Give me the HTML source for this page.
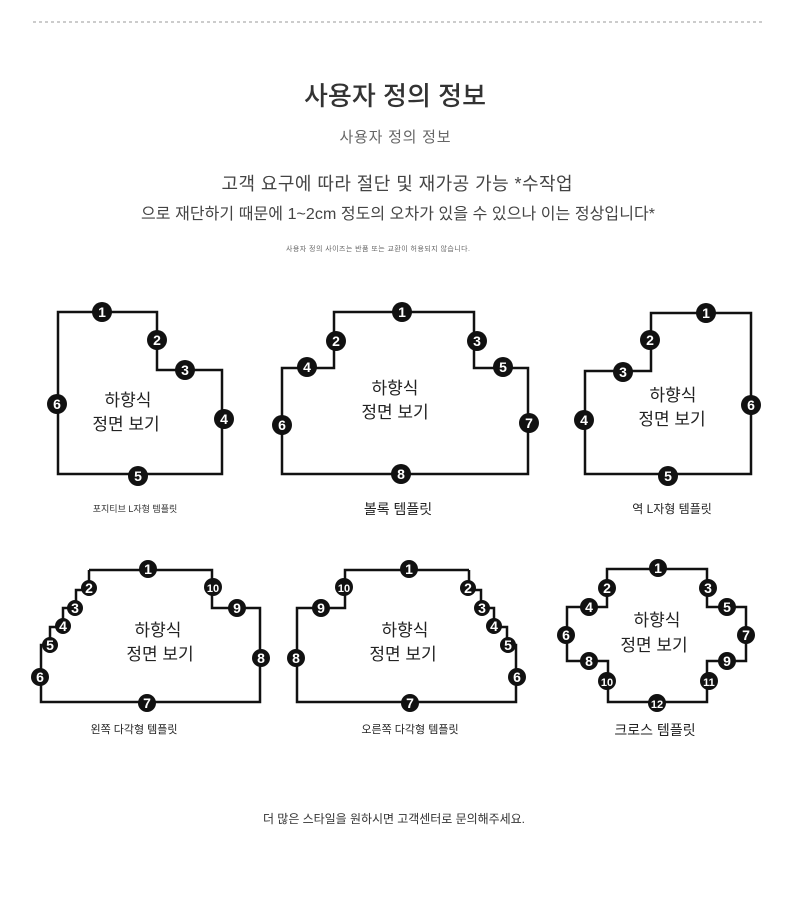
<!DOCTYPE html>
<html><head><meta charset="utf-8"><style>
html,body{margin:0;padding:0;background:#fff;}
svg{display:block;font-family:"Liberation Sans","Noto Sans CJK KR",sans-serif;}
.b circle{fill:#111;}
.b text{fill:#fff;font-size:14px;font-weight:bold;text-anchor:middle;}
.s{fill:none;stroke:#111;stroke-width:2.5;}
.c{font-size:17px;fill:#222;text-anchor:middle;}
</style></head><body>
<svg width="790" height="898" viewBox="0 0 790 898" xmlns="http://www.w3.org/2000/svg">
<line x1="33" y1="22" x2="765" y2="22" stroke="#999" stroke-width="1" stroke-dasharray="3,3"/>
<text x="395" y="105" font-size="26" fill="#333" text-anchor="middle" textLength="182" font-weight="500">사용자 정의 정보</text>
<text x="395" y="142" font-size="15" fill="#666" text-anchor="middle" textLength="111">사용자 정의 정보</text>
<text x="397" y="190" font-size="18" fill="#444" text-anchor="middle" textLength="351">고객 요구에 따라 절단 및 재가공 가능 *수작업</text>
<text x="398" y="219" font-size="16" fill="#444" text-anchor="middle" textLength="514">으로 재단하기 때문에 1~2cm 정도의 오차가 있을 수 있으나 이는 정상입니다*</text>
<text x="378" y="251" font-size="7" fill="#666" text-anchor="middle" textLength="184">사용자 정의 사이즈는 반품 또는 교환이 허용되지 않습니다.</text>

<polygon class="s" points="58,312 157,312 157,370 222,370 222,474 58,474"/>
<text class="c" x="128" y="406">하향식</text><text class="c" x="126" y="430">정면 보기</text>
<text x="135" y="512" font-size="9" fill="#333" text-anchor="middle">포지티브 L자형 템플릿</text>
<polygon class="s" points="282,474 282,368 334,368 334,312 474,312 474,368 528,368 528,474"/>
<text class="c" x="395" y="394">하향식</text><text class="c" x="395" y="418">정면 보기</text>
<text x="398" y="514" font-size="14" fill="#222" text-anchor="middle">볼록 템플릿</text>
<polygon class="s" points="585,474 585,371 651,371 651,313 751,313 751,474"/>
<text class="c" x="673" y="401">하향식</text><text class="c" x="672" y="425">정면 보기</text>
<text x="672" y="513" font-size="12" fill="#222" text-anchor="middle">역 L자형 템플릿</text>
<polyline class="s" points="89,570 212,570 212,608 260,608 260,702 41,702 41,645 50,645 50,627 63,627 63,608 76,608 76,590 89,590 89,570"/>
<text class="c" x="158" y="636">하향식</text><text class="c" x="160" y="660">정면 보기</text>
<text x="134" y="733" font-size="11" fill="#222" text-anchor="middle">왼쪽 다각형 템플릿</text>
<polyline class="s" points="469,570 345,570 345,608 297,608 297,702 516,702 516,645 507,645 507,627 494,627 494,608 481,608 481,590 469,590 469,570"/>
<text class="c" x="405" y="636">하향식</text><text class="c" x="403" y="660">정면 보기</text>
<text x="410" y="733" font-size="11" fill="#222" text-anchor="middle">오른쪽 다각형 템플릿</text>
<polygon class="s" points="607,569 707,569 707,607 746,607 746,661 707,661 707,702 608,702 608,661 567,661 567,607 607,607"/>
<text class="c" x="657" y="626">하향식</text><text class="c" x="654" y="651">정면 보기</text>
<text x="655" y="735" font-size="14" fill="#222" text-anchor="middle">크로스 템플릿</text>

<g class="b">
<circle cx="102" cy="312" r="10"/><text x="102" y="317">1</text>
<circle cx="157" cy="340" r="10"/><text x="157" y="345">2</text>
<circle cx="185" cy="370" r="10"/><text x="185" y="375">3</text>
<circle cx="224" cy="419" r="10"/><text x="224" y="424">4</text>
<circle cx="138" cy="476" r="10"/><text x="138" y="481">5</text>
<circle cx="57" cy="404" r="10"/><text x="57" y="409">6</text>
<circle cx="402" cy="312" r="10"/><text x="402" y="317">1</text>
<circle cx="336" cy="341" r="10"/><text x="336" y="346">2</text>
<circle cx="477" cy="341" r="10"/><text x="477" y="346">3</text>
<circle cx="307" cy="367" r="10"/><text x="307" y="372">4</text>
<circle cx="503" cy="367" r="10"/><text x="503" y="372">5</text>
<circle cx="282" cy="425" r="10"/><text x="282" y="430">6</text>
<circle cx="529" cy="423" r="10"/><text x="529" y="428">7</text>
<circle cx="401" cy="474" r="10"/><text x="401" y="479">8</text>
<circle cx="706" cy="313" r="10"/><text x="706" y="318">1</text>
<circle cx="650" cy="340" r="10"/><text x="650" y="345">2</text>
<circle cx="623" cy="372" r="10"/><text x="623" y="377">3</text>
<circle cx="584" cy="420" r="10"/><text x="584" y="425">4</text>
<circle cx="668" cy="476" r="10"/><text x="668" y="481">5</text>
<circle cx="751" cy="405" r="10"/><text x="751" y="410">6</text>
<circle cx="148" cy="569" r="9"/><text x="148" y="574">1</text>
<circle cx="89" cy="588" r="8"/><text x="89" y="593">2</text>
<circle cx="75" cy="608" r="8"/><text x="75" y="613">3</text>
<circle cx="63" cy="626" r="8"/><text x="63" y="631">4</text>
<circle cx="50" cy="645" r="8"/><text x="50" y="650">5</text>
<circle cx="40" cy="677" r="9"/><text x="40" y="682">6</text>
<circle cx="147" cy="703" r="9"/><text x="147" y="708">7</text>
<circle cx="261" cy="658" r="9"/><text x="261" y="663">8</text>
<circle cx="237" cy="608" r="9"/><text x="237" y="613">9</text>
<circle cx="213" cy="587" r="9"/><text x="213" y="592" style="font-size:11px">10</text>
<circle cx="409" cy="569" r="9"/><text x="409" y="574">1</text>
<circle cx="468" cy="588" r="8"/><text x="468" y="593">2</text>
<circle cx="482" cy="608" r="8"/><text x="482" y="613">3</text>
<circle cx="494" cy="626" r="8"/><text x="494" y="631">4</text>
<circle cx="508" cy="645" r="8"/><text x="508" y="650">5</text>
<circle cx="517" cy="677" r="9"/><text x="517" y="682">6</text>
<circle cx="410" cy="703" r="9"/><text x="410" y="708">7</text>
<circle cx="296" cy="658" r="9"/><text x="296" y="663">8</text>
<circle cx="321" cy="608" r="9"/><text x="321" y="613">9</text>
<circle cx="344" cy="587" r="9"/><text x="344" y="592" style="font-size:11px">10</text>
<circle cx="658" cy="568" r="9"/><text x="658" y="573">1</text>
<circle cx="607" cy="588" r="9"/><text x="607" y="593">2</text>
<circle cx="708" cy="588" r="9"/><text x="708" y="593">3</text>
<circle cx="589" cy="607" r="9"/><text x="589" y="612">4</text>
<circle cx="727" cy="607" r="9"/><text x="727" y="612">5</text>
<circle cx="566" cy="635" r="9"/><text x="566" y="640">6</text>
<circle cx="746" cy="635" r="9"/><text x="746" y="640">7</text>
<circle cx="589" cy="661" r="9"/><text x="589" y="666">8</text>
<circle cx="727" cy="661" r="9"/><text x="727" y="666">9</text>
<circle cx="607" cy="681" r="9"/><text x="607" y="686" style="font-size:11px">10</text>
<circle cx="709" cy="681" r="9"/><text x="709" y="686" style="font-size:11px">11</text>
<circle cx="657" cy="703" r="9"/><text x="657" y="708" style="font-size:11px">12</text>
</g>

<text x="394" y="823" font-size="12" fill="#333" text-anchor="middle" textLength="262">더 많은 스타일을 원하시면 고객센터로 문의해주세요.</text>
</svg>
</body></html>
